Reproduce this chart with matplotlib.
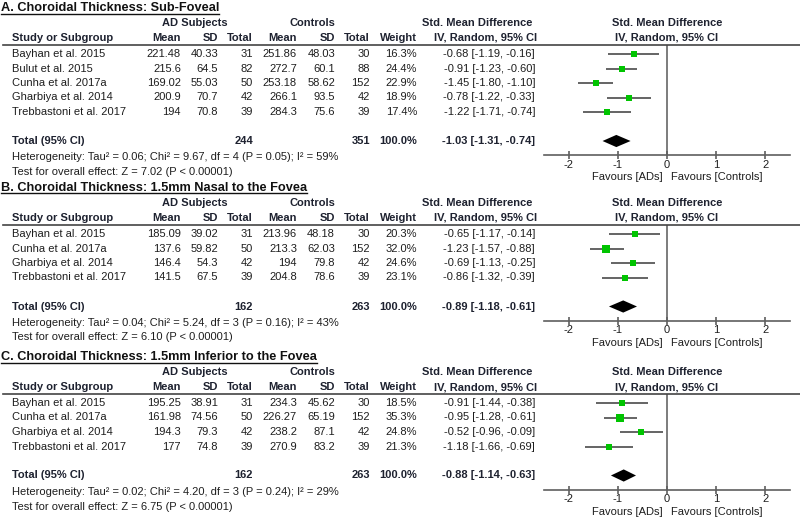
import matplotlib
matplotlib.use("Agg")
import matplotlib.pyplot as plt
from matplotlib.lines import Line2D

plt.rcParams['font.family'] = ['Liberation Sans', 'DejaVu Sans']

# ---------------- data ----------------
titles = ["A. Choroidal Thickness: Sub-Foveal",
          "B. Choroidal Thickness: 1.5mm Nasal to the Fovea",
          "C. Choroidal Thickness: 1.5mm Inferior to the Fovea"]

studies_A = ["Bayhan et al. 2015", "Bulut et al. 2015", "Cunha et al. 2017a",
             "Gharbiya et al. 2014", "Trebbastoni et al. 2017"]
ad_mean_A = [221.48, 215.6, 169.02, 200.9, 194]
ad_sd_A = [40.33, 64.5, 55.03, 70.7, 70.8]
ad_n_A = [31, 82, 50, 42, 39]
ct_mean_A = [251.86, 272.7, 253.18, 266.1, 284.3]
ct_sd_A = [48.03, 60.1, 58.62, 93.5, 75.6]
ct_n_A = [30, 88, 152, 42, 39]
weight_A = [16.3, 24.4, 22.9, 18.9, 17.4]
smd_A = [-0.68, -0.91, -1.45, -0.78, -1.22]
lo_A = [-1.19, -1.23, -1.80, -1.22, -1.71]
hi_A = [-0.16, -0.60, -1.10, -0.33, -0.74]
total_A = [244, 351, 100.0, -1.03, -1.31, -0.74]
het_A = "Heterogeneity: Tau² = 0.06; Chi² = 9.67, df = 4 (P = 0.05); I² = 59%"
test_A = "Test for overall effect: Z = 7.02 (P < 0.00001)"

studies_B = ["Bayhan et al. 2015", "Cunha et al. 2017a",
             "Gharbiya et al. 2014", "Trebbastoni et al. 2017"]
ad_mean_B = [185.09, 137.6, 146.4, 141.5]
ad_sd_B = [39.02, 59.82, 54.3, 67.5]
ad_n_B = [31, 50, 42, 39]
ct_mean_B = [213.96, 213.3, 194, 204.8]
ct_sd_B = [48.18, 62.03, 79.8, 78.6]
ct_n_B = [30, 152, 42, 39]
weight_B = [20.3, 32.0, 24.6, 23.1]
smd_B = [-0.65, -1.23, -0.69, -0.86]
lo_B = [-1.17, -1.57, -1.13, -1.32]
hi_B = [-0.14, -0.88, -0.25, -0.39]
total_B = [162, 263, 100.0, -0.89, -1.18, -0.61]
het_B = "Heterogeneity: Tau² = 0.04; Chi² = 5.24, df = 3 (P = 0.16); I² = 43%"
test_B = "Test for overall effect: Z = 6.10 (P < 0.00001)"

studies_C = ["Bayhan et al. 2015", "Cunha et al. 2017a",
             "Gharbiya et al. 2014", "Trebbastoni et al. 2017"]
ad_mean_C = [195.25, 161.98, 194.3, 177]
ad_sd_C = [38.91, 74.56, 79.3, 74.8]
ad_n_C = [31, 50, 42, 39]
ct_mean_C = [234.3, 226.27, 238.2, 270.9]
ct_sd_C = [45.62, 65.19, 87.1, 83.2]
ct_n_C = [30, 152, 42, 39]
weight_C = [18.5, 35.3, 24.8, 21.3]
smd_C = [-0.91, -0.95, -0.52, -1.18]
lo_C = [-1.44, -1.28, -0.96, -1.66]
hi_C = [-0.38, -0.61, -0.09, -0.69]
total_C = [162, 263, 100.0, -0.88, -1.14, -0.63]
het_C = "Heterogeneity: Tau² = 0.02; Chi² = 4.20, df = 3 (P = 0.24); I² = 29%"
test_C = "Test for overall effect: Z = 6.75 (P < 0.00001)"

x_ticks = [-2, -1, 0, 1, 2]
x_ticklabels = ["-2", "-1", "0", "1", "2"]
favours = ["Favours [ADs]", "Favours [Controls]"]

# ---------------- layout / style ----------------
W, H = 800, 518
fig = plt.figure(figsize=(8, 5.18), dpi=100)

def fx(x):
    return x / W

def fy(y):
    return 1 - y / H

TXT = '#1e1e1e'
HDR = '#1e2230'
GREEN = '#00c400'
LINEC = '#5f5f5f'
FS = 8.0
TFS = 9.15
SP = 14.5
panel_tops = [8, 188, 357]

def txt(x, y, s, ha='left', bold=False, size=FS, color=None):
    return fig.text(fx(x), fy(y), s, ha=ha, va='center', fontsize=size,
                    fontweight='bold' if bold else 'normal',
                    color=color or (HDR if bold else TXT))

def fmt(v):
    return f"{v:g}"

titles_artists = []

def draw_panel(top, title, studies, adm, ads, adn, ctm, cts, ctn, wt, smd, lo, hi, tot, het, test):
    t = txt(1, top, title, bold=True, size=TFS, color='#111111')
    titles_artists.append(t)
    txt(195, top + 15, "AD Subjects", ha='center', bold=True)
    txt(312, top + 15, "Controls", ha='center', bold=True)
    txt(477, top + 15, "Std. Mean Difference", ha='center', bold=True)
    txt(667, top + 15, "Std. Mean Difference", ha='center', bold=True)
    hy = top + 30
    txt(12, hy, "Study or Subgroup", bold=True)
    for x, s in [(181, "Mean"), (218, "SD"), (253, "Total"), (297, "Mean"),
                 (335, "SD"), (370, "Total"), (417, "Weight")]:
        txt(x, hy, s, ha='right', bold=True)
    txt(486, hy, "IV, Random, 95% CI", ha='center', bold=True)
    txt(667, hy, "IV, Random, 95% CI", ha='center', bold=True)

    header_y = top + 36.5
    fig.add_artist(Line2D([fx(3), fx(800)], [fy(header_y), fy(header_y)],
                          color='#444444', lw=1.2))
    first = top + 46
    n = len(studies)
    for i in range(n):
        y = first + i * SP
        txt(12, y, studies[i])
        txt(181, y, fmt(adm[i]), ha='right')
        txt(218, y, fmt(ads[i]), ha='right')
        txt(253, y, str(adn[i]), ha='right')
        txt(297, y, fmt(ctm[i]), ha='right')
        txt(335, y, fmt(cts[i]), ha='right')
        txt(370, y, str(ctn[i]), ha='right')
        txt(417, y, f"{wt[i]:.1f}%", ha='right')
        txt(535, y, f"{smd[i]:.2f} [{lo[i]:.2f}, {hi[i]:.2f}]", ha='right')
    total_y = first + (n + 1) * SP
    txt(12, total_y, "Total (95% CI)", bold=True)
    txt(253, total_y, str(tot[0]), ha='right', bold=True)
    txt(370, total_y, str(tot[1]), ha='right', bold=True)
    txt(417, total_y, f"{tot[2]:.1f}%", ha='right', bold=True)
    txt(535, total_y, f"{tot[3]:.2f} [{tot[4]:.2f}, {tot[5]:.2f}]", ha='right', bold=True)
    txt(12, total_y + 16.5, het)
    txt(12, total_y + 31, test)

    axis_y = total_y + 14
    ax = fig.add_axes([fx(544), fy(axis_y), fx(790) - fx(544), (axis_y - header_y) / H])
    ax.patch.set_alpha(0)
    ax.set_xlim(-2.5, 2.5)
    ax.set_ylim((axis_y - first) / SP, -(first - header_y) / SP)
    rows = list(range(n))
    ax.hlines(rows, lo, hi, color=LINEC, lw=1.35, zorder=2)
    for i in rows:
        side_px = 1.2 * wt[i] ** 0.5 + 0.4
        ax.plot(smd[i], i, 's', ms=side_px * 0.72, color=GREEN, mew=0, zorder=3)
    r = n + 1
    ax.fill([tot[4], tot[3], tot[5], tot[3]], [r, r - 0.42, r, r + 0.42],
            color='black', lw=0, zorder=3)
    ax.axvline(0, color='#666666', lw=1.2, zorder=1)
    for s in ['top', 'right', 'left']:
        ax.spines[s].set_visible(False)
    ax.spines['bottom'].set_color(LINEC)
    ax.spines['bottom'].set_linewidth(1.2)
    ax.set_yticks([])
    ax.set_xticks(x_ticks)
    ax.set_xticklabels(x_ticklabels)
    ax.tick_params(axis='x', direction='inout', length=5.8, width=1.2, color=LINEC,
                   labelsize=FS, labelcolor=TXT, pad=0.5)
    txt(663, axis_y + 22.5, favours[0], ha='right')
    txt(671, axis_y + 22.5, favours[1], ha='left')


panels = [
    (studies_A, ad_mean_A, ad_sd_A, ad_n_A, ct_mean_A, ct_sd_A, ct_n_A, weight_A,
     smd_A, lo_A, hi_A, total_A, het_A, test_A),
    (studies_B, ad_mean_B, ad_sd_B, ad_n_B, ct_mean_B, ct_sd_B, ct_n_B, weight_B,
     smd_B, lo_B, hi_B, total_B, het_B, test_B),
    (studies_C, ad_mean_C, ad_sd_C, ad_n_C, ct_mean_C, ct_sd_C, ct_n_C, weight_C,
     smd_C, lo_C, hi_C, total_C, het_C, test_C),
]
for top, title, p in zip(panel_tops, titles, panels):
    draw_panel(top, title, *p)

# underline titles
fig.canvas.draw()
for t in titles_artists:
    bb = t.get_window_extent()
    yb = bb.y0 + 0.5
    fig.add_artist(Line2D([bb.x0 / W, bb.x1 / W], [yb / H, yb / H],
                          color='#111111', lw=1.0))

fig.savefig("out.png", dpi=100)
